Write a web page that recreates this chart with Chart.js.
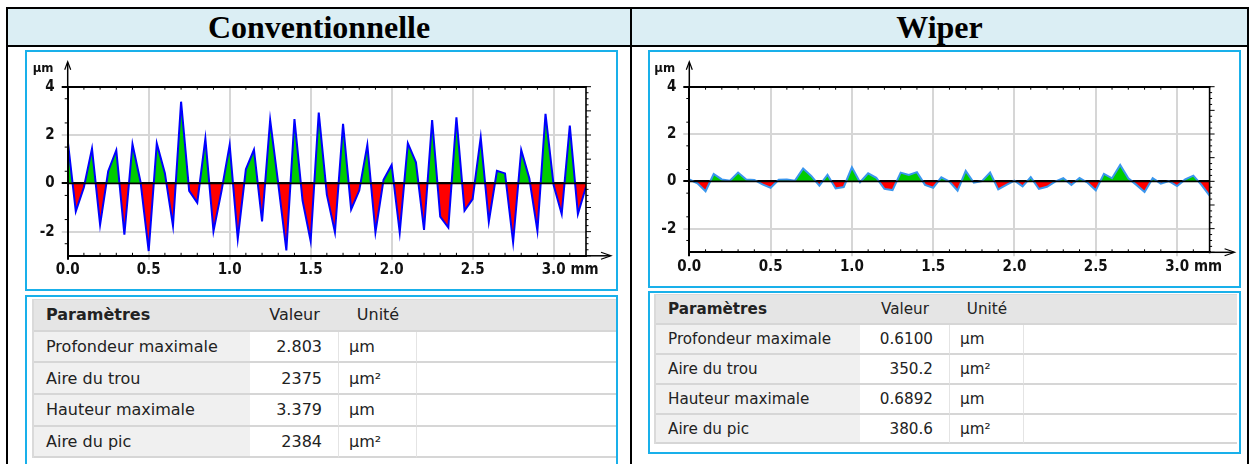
<!DOCTYPE html>
<html lang="fr">
<head>
<meta charset="utf-8">
<title>Profils de rugosité – Conventionnelle / Wiper</title>
<script src="https://cdn.jsdelivr.net/npm/chart.js@4.4.1/dist/chart.umd.min.js"></script>
<style>
  html, body { margin: 0; padding: 0; background: #fff; }
  body { width: 1252px; height: 464px; position: relative; overflow: hidden; }
  .rule { position: absolute; background: #000; }
  .head { position: absolute; top: 9px; height: 36px; background: #dbeef4;
          display: flex; align-items: center; justify-content: center;
          font-family: "Liberation Serif", "Times New Roman", serif; font-weight: bold;
          font-size: 32px; color: #000; }
  .box { position: absolute; box-sizing: border-box; border: 2px solid #19b0ea; background: #fff; }
  .box canvas { position: absolute; left: 0; top: 0; }
  .params { position: absolute; display: grid; font-family: "DejaVu Sans", sans-serif; color: #222;
            border-left: 2px solid #dadada; border-top: 1px solid #dadada; }
  .params div { box-sizing: border-box; border-bottom: 2px solid #d6d6d6; display: flex;
                align-items: center; white-space: nowrap; background: #fff; }
  .params .hd { background: #e5e5e5; justify-content: center; }
  .params .hd.first { justify-content: flex-start; font-weight: bold; padding-left: 12px; }
  .params .name { background: #f0f0f0; padding-left: 12px; }
  .params .val { justify-content: flex-end; padding-right: 16px; border-right: 1px solid #e4e4e4; }
  .params .unit { padding-left: 10px; border-right: 1px solid #e4e4e4; }
</style>
</head>
<body>
  <div class="rule" style="left:6px;top:7px;width:1243px;height:2px"></div>
  <div class="rule" style="left:6px;top:45px;width:1243px;height:2px"></div>
  <div class="rule" style="left:6px;top:7px;width:2px;height:460px"></div>
  <div class="rule" style="left:630px;top:7px;width:2px;height:460px"></div>
  <div class="rule" style="left:1247px;top:7px;width:2px;height:460px"></div>
  <div class="head" style="left:8px;width:622px">Conventionnelle</div>
  <div class="head" style="left:632px;width:615px">Wiper</div>

  <div class="box" style="left:25px;top:50px;width:593px;height:241px">
    <canvas id="chartConv" width="589" height="237"></canvas>
  </div>
  <div class="box" style="left:25px;top:295px;width:593px;height:190px"></div>
  <div class="params" id="tableConv"
       style="left:32px;top:299px;grid-template-columns:216px 89px 78px 199px;grid-auto-rows:31.7px;font-size:16px"></div>

  <div class="box" style="left:648px;top:50px;width:593px;height:238px">
    <canvas id="chartWiper" width="589" height="234"></canvas>
  </div>
  <div class="box" style="left:648px;top:291px;width:593px;height:163px"></div>
  <div class="params" id="tableWiper"
       style="left:654px;top:294px;grid-template-columns:204px 90px 74px 213px;grid-auto-rows:29.9px;font-size:15.2px"></div>

<script>
// Sampling positions along the evaluation length (mm)
const positionsMm = [
  0.00, 0.05, 0.10, 0.15, 0.20, 0.25, 0.30, 0.35, 0.40, 0.45,
  0.50, 0.55, 0.60, 0.65, 0.70, 0.75, 0.80, 0.85, 0.90, 0.95,
  1.00, 1.05, 1.10, 1.15, 1.20, 1.25, 1.30, 1.35, 1.40, 1.45,
  1.50, 1.55, 1.60, 1.65, 1.70, 1.75, 1.80, 1.85, 1.90, 1.95,
  2.00, 2.05, 2.10, 2.15, 2.20, 2.25, 2.30, 2.35, 2.40, 2.45,
  2.50, 2.55, 2.60, 2.65, 2.70, 2.75, 2.80, 2.85, 2.90, 2.95,
  3.00, 3.05, 3.10, 3.15, 3.20
];

// Profile heights (µm) – conventional insert
const conventionnelleHeights = [
  1.78, -1.16, -0.16, 1.44, -1.71, 0.50, 1.37, -2.12, 1.62, 0.05,
  -2.803, 1.65, 0.42, -1.76, 3.379, -0.31, -0.80, 1.85, -1.98, -0.30,
  1.59, -2.30, 0.58, 1.39, -1.58, 2.62, -0.02, -2.78, 2.66, -0.71,
  -2.39, 2.93, -0.47, -2.03, 2.46, -1.08, -0.30, 1.59, -2.03, 0.14,
  0.76, -2.03, 1.66, 0.87, -1.93, 2.62, -1.38, -1.83, 2.73, -1.13,
  -0.65, 1.90, -1.59, 0.52, 0.41, -2.44, 1.38, 0.21, -1.96, 2.88,
  -0.07, -1.27, 2.39, -1.27, -0.14
];

// Profile heights (µm) – wiper insert
const wiperHeights = [
  0.08, -0.08, -0.42, 0.31, 0.08, 0.03, 0.37, 0.08, 0.06, -0.13,
  -0.27, 0.07, 0.08, 0.03, 0.54, 0.23, -0.18, 0.28, -0.30, -0.24,
  0.59, -0.04, 0.34, 0.15, -0.32, -0.37, 0.37, 0.27, 0.39, -0.15,
  -0.27, 0.17, -0.01, -0.39, 0.44, -0.06, 0.01, 0.37, -0.34, -0.15,
  0.03, -0.21, 0.18, -0.32, -0.23, -0.01, 0.13, -0.15, 0.14, -0.06,
  -0.38, 0.32, 0.13, 0.6892, 0.13, -0.15, -0.45, 0.13, -0.10, 0.01,
  -0.20, 0.08, 0.24, -0.15, -0.61
];

const xTickValues = [0, 0.5, 1, 1.5, 2, 2.5, 3];
const xTickLabels = ['0.0', '0.5', '1.0', '1.5', '2.0', '2.5', '3.0'];
const yTickValues = [-2, 0, 2, 4];
const yTickLabels = ['-2', '0', '2', '4'];

// Parameter tables
const tableHeaders = ['Paramètres', 'Valeur', 'Unité'];
const paramNames = ['Profondeur maximale', 'Aire du trou', 'Hauteur maximale', 'Aire du pic'];
const paramUnits = ['µm', 'µm²', 'µm', 'µm²'];
const conventionnelleValues = ['2.803', '2375', '3.379', '2384'];
const wiperValues = ['0.6100', '350.2', '0.6892', '380.6'];

const axisFamily = '"DejaVu Sans Condensed", "DejaVu Sans", Verdana, sans-serif';
const tickFont = { family: axisFamily, size: 15, weight: 'bold' };
const tickPadding = 1.5;
const xTickLength = 4;

// Frame, minor ticks, arrows and unit labels around the plot area
const profileFrame = {
  id: 'profileFrame',
  afterDraw(chart) {
    const { ctx, chartArea: a, scales: { x, y } } = chart;
    const seg = (x1, y1, x2, y2, w) => {
      ctx.lineWidth = w; ctx.beginPath(); ctx.moveTo(x1, y1); ctx.lineTo(x2, y2); ctx.stroke();
    };
    ctx.save();
    ctx.strokeStyle = '#000';
    ctx.fillStyle = '#111';

    // zero line over the filled areas
    const y0 = y.getPixelForValue(0);
    seg(a.left, y0, a.right, y0, 1.8);

    // top and right sides of the frame
    seg(a.left, a.top, a.right + 1, a.top, 1.6);
    seg(a.right, a.top, a.right, a.bottom + 1, 1.6);

    // minor ticks every 0.1 mm along top and bottom
    for (let k = 1; k < 32; k++) {
      if (k % 5 === 0) continue;
      const px = x.getPixelForValue(k / 10);
      seg(px, a.top, px, a.top + 3, 1);
      seg(px, a.bottom, px, a.bottom - 3, 1);
    }
    // left side: ticks every 0.5 µm, right side: every 0.25 µm
    for (let k = -6; k <= 8; k++) {
      const py = y.getPixelForValue(k / 2);
      if (k % 2 !== 0) seg(a.left - 3, py, a.left, py, 1);
    }
    for (let k = -12; k <= 16; k++) {
      const py = y.getPixelForValue(k / 4);
      seg(a.right, py, a.right + (k % 4 === 0 ? 5 : 2.5), py, 1);
    }

    // axis arrows
    seg(a.left, a.top, a.left, a.top - 24, 1.5);
    ctx.lineWidth = 1.2;
    ctx.beginPath();
    ctx.moveTo(a.left - 3, a.top - 17); ctx.lineTo(a.left, a.top - 25); ctx.lineTo(a.left + 3, a.top - 17);
    ctx.stroke();
    seg(a.right, a.bottom, a.right + 24, a.bottom, 1.5);
    ctx.lineWidth = 1.2;
    ctx.beginPath();
    ctx.moveTo(a.right + 15, a.bottom - 3.5); ctx.lineTo(a.right + 25, a.bottom); ctx.lineTo(a.right + 15, a.bottom + 3.5);
    ctx.stroke();

    // unit labels
    ctx.font = 'bold 13px ' + axisFamily;
    ctx.textAlign = 'left';
    ctx.textBaseline = 'alphabetic';
    ctx.fillText('µm', a.left - 35, a.top - 15);

    ctx.font = 'bold 15px ' + axisFamily;
    ctx.textBaseline = 'middle';
    const x3 = x.getPixelForValue(3);
    const half = ctx.measureText(xTickLabels[6]).width / 2;
    ctx.fillText('mm', x3 + half + 5, a.bottom + xTickLength + tickPadding + 15 * 1.2 / 2);
    ctx.restore();
  }
};

function profileChart(canvasId, heights, lineColor, frame) {
  return new Chart(document.getElementById(canvasId), {
    type: 'line',
    data: {
      datasets: [{
        data: positionsMm.map((p, i) => ({ x: p, y: heights[i] })),
        borderColor: lineColor,
        borderWidth: 2,
        pointRadius: 0,
        tension: 0,
        fill: { target: 'origin', above: '#00cc00', below: '#ff0000' }
      }]
    },
    options: {
      responsive: false,
      animation: false,
      events: [],
      layout: { padding: { top: frame.top, right: frame.right, bottom: frame.bottom, left: 0 } },
      plugins: { legend: { display: false }, tooltip: { enabled: false } },
      scales: {
        x: {
          type: 'linear', min: 0, max: 3.2,
          afterBuildTicks: s => { s.ticks = xTickValues.map(v => ({ value: v })); },
          afterFit: s => { s.height = 28; },
          grid: {
            color: c => (c.tick && c.tick.value === 0 ? '#000' : '#d6d6d6'),
            lineWidth: 2, tickLength: xTickLength
          },
          border: { display: true, color: '#000', width: 2, z: 1 },
          ticks: {
            autoSkip: false, maxRotation: 0, padding: tickPadding, color: '#111', font: tickFont,
            callback: (v, i) => xTickLabels[i]
          }
        },
        y: {
          type: 'linear', min: -3, max: 4,
          afterBuildTicks: s => { s.ticks = yTickValues.map(v => ({ value: v })); },
          afterFit: s => { s.width = frame.left; },
          grid: {
            color: c => (c.tick && (c.tick.value === 0 || c.tick.value === 4) ? '#000' : '#d6d6d6'),
            lineWidth: 2, tickLength: 6
          },
          border: { display: true, color: '#000', width: 2, z: 1 },
          ticks: {
            padding: 7, color: '#111', font: tickFont,
            callback: (v, i) => yTickLabels[i]
          }
        }
      }
    },
    plugins: [profileFrame]
  });
}

function buildTable(id, values) {
  const parts = [
    `<div class="hd first">${tableHeaders[0]}</div>`,
    `<div class="hd">${tableHeaders[1]}</div>`,
    `<div class="hd">${tableHeaders[2]}</div>`,
    `<div class="hd"></div>`
  ];
  paramNames.forEach((name, i) => {
    parts.push(`<div class="name">${name}</div>`,
               `<div class="val">${values[i]}</div>`,
               `<div class="unit">${paramUnits[i]}</div>`,
               `<div></div>`);
  });
  document.getElementById(id).innerHTML = parts.join('');
}

profileChart('chartConv', conventionnelleHeights, '#0000ff',
  { left: 40.7, top: 34.7, right: 30, bottom: 5.2 });
profileChart('chartWiper', wiperHeights, '#3a96ee',
  { left: 39.3, top: 34.7, right: 29.4, bottom: 5.7 });

buildTable('tableConv', conventionnelleValues);
buildTable('tableWiper', wiperValues);
</script>
</body>
</html>
